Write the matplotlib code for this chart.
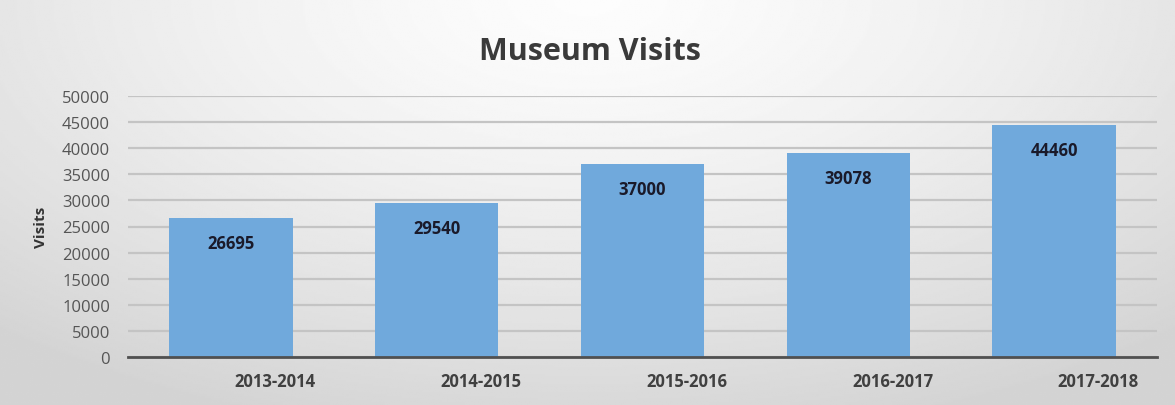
import numpy as np
import matplotlib
matplotlib.use("Agg")
from matplotlib import pyplot as plt

seasons = ['2013-2014', '2014-2015', '2015-2016', '2016-2017', '2017-2018']
visits = [26695, 29540, 37000, 39078, 44460]
yticks = list(range(0, 50001, 5000))

plt.rcParams['font.family'] = ['Open Sans', 'DejaVu Sans']

fig = plt.figure(figsize=(11.75, 4.06), dpi=100)

# soft grey background, lighter around the top centre
bg = fig.add_axes([0, 0, 1, 1], zorder=0)
yy, xx = np.mgrid[0:1:200j, 0:1:600j]
d = np.sqrt(((xx - 0.5) / 0.75) ** 2 + (yy / 1.1) ** 2)
shade = 0.99 - 0.16 * np.clip(d, 0, 1) ** 1.4
bg.imshow(shade, cmap='gray', vmin=0, vmax=1, aspect='auto', extent=[0, 1, 1, 0])
bg.axis('off')

ax = fig.add_axes([128 / 1175, 48 / 406, 1029 / 1175, 261 / 406], zorder=1)
ax.patch.set_alpha(0)

x = np.arange(len(seasons))
bars = ax.bar(x, visits, width=0.6, color='#70a9dc', zorder=2)

for b, v in zip(bars, visits):
    ax.annotate(str(v), (b.get_x() + b.get_width() / 2, v), xytext=(0, -25),
                textcoords='offset pixels', ha='center', va='center',
                fontsize=12, fontweight='bold', color='#1a1a2a', zorder=3)

ax.set_xlim(-0.5, 4.5)
ax.set_ylim(0, 50000)
ax.set_yticks(yticks)
ax.set_yticklabels([str(t) for t in yticks], fontsize=12, color='#555555')
ax.set_xticks(x + 0.215)
ax.set_xticklabels(seasons, fontsize=12, fontweight='bold', color='#404040')
ax.tick_params(axis='y', length=0, pad=13)
ax.tick_params(axis='x', length=0, pad=11)

ax.yaxis.grid(True, color='#c4c4c4', linewidth=1.6, zorder=1)
ax.set_axisbelow(True)
for s in ['top', 'right', 'left']:
    ax.spines[s].set_visible(False)
ax.spines['bottom'].set_color('#505050')
ax.spines['bottom'].set_linewidth(2)
ax.spines['bottom'].set_zorder(3)

ax.set_ylabel('Visits', fontsize=11, fontweight='bold', color='#333333', labelpad=10)
fig.text(590 / 1175, 1 - 52 / 406, 'Museum Visits', ha='center', va='center',
         fontsize=22, fontweight='bold', color='#3a3a3a')

fig.savefig('out.png', dpi=100)
